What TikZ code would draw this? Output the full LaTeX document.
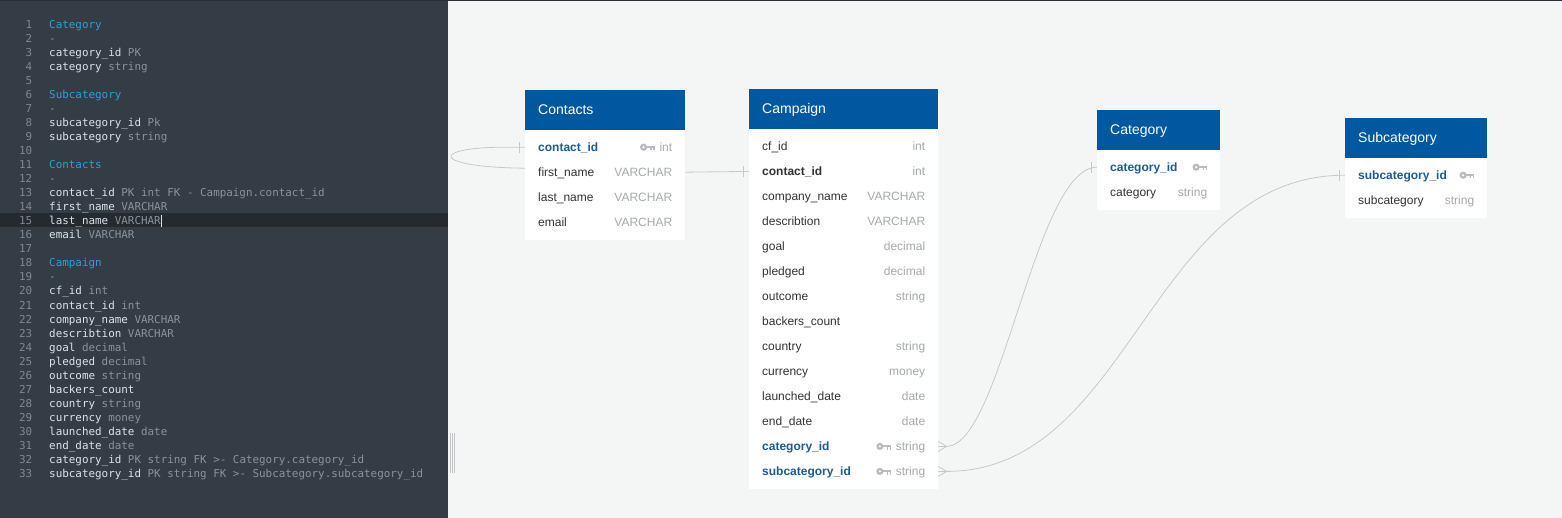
\documentclass[tikz,border=0pt]{standalone}
\usepackage{fontspec}
\setmainfont{Liberation Sans}
\setmonofont{DejaVu Sans Mono}
\usetikzlibrary{calc,positioning}
\definecolor{CodeBg}{HTML}{343D46}
\definecolor{CodeLine}{HTML}{242A30}
\definecolor{CodeText}{HTML}{DDE2E7}
\definecolor{CodeType}{HTML}{8A939C}
\definecolor{CodeTitle}{HTML}{2AA0DA}
\definecolor{CodeNum}{HTML}{7E8891}
\definecolor{CanvasBg}{HTML}{F4F6F6}
\definecolor{TopBar}{HTML}{2A3037}
\definecolor{HeadBlue}{HTML}{0059A0}
\definecolor{KeyBlue}{HTML}{1B5C99}
\definecolor{RowText}{HTML}{333333}
\definecolor{TypeGray}{HTML}{A6AAAE}
\definecolor{KeyGray}{HTML}{B8BCC0}
\definecolor{LineGray}{HTML}{C6C8CA}
\definecolor{GripGray}{HTML}{C2C6CA}
\newcommand{\codefont}{\ttfamily\fontsize{10.9}{14}\selectfont}
\newcommand{\tblheadfont}{\fontsize{14}{16}\selectfont}
\newcommand{\tblrowfont}{\fontsize{12}{14}\selectfont}

\begin{document}
\begin{tikzpicture}[
    x=1pt, y=-1pt,
    lineno/.style={font=\codefont, text=CodeNum, anchor=base east, inner sep=0pt},
    codetxt/.style={font=\codefont, anchor=base west, inner sep=0pt, text height=8pt, text depth=2.5pt},
    tblhead/.style={fill=HeadBlue, text=white, font=\tblheadfont, anchor=north west, inner xsep=13pt, inner ysep=0pt, minimum height=39.5pt, text height=10pt, text depth=0pt, text width=#1, align=left},
    tblbody/.style={fill=white, anchor=north west, inner sep=0pt, minimum width=#1},
    fieldname/.style={anchor=base west, inner sep=0pt, text height=8.6pt, text depth=0pt},
    fieldtype/.style={font=\tblrowfont, text=TypeGray, anchor=base east, inner sep=0pt, text height=8.6pt, text depth=0pt},
    relline/.style={draw=LineGray, line width=0.8pt},
    keyicon/.pic={
      \fill[KeyGray] (-11.3,0) circle (3.6);
      \fill[white] (-11.3,0) circle (1.2);
      \fill[KeyGray] (-8.5,-1.5) rectangle (0,1.0);
      \fill[KeyGray] (-4.6,0) rectangle (-3.2,3.2);
      \fill[KeyGray] (-1.6,0) rectangle (0,3.2);
    }
]
  \useasboundingbox (0,0) rectangle (1562,518);

  % -------------------------------------------------------------
  % background
  % -------------------------------------------------------------
  \fill[CanvasBg] (0,0) rectangle (1562,518);
  \fill[CodeBg] (0,0) rectangle (448,518);
  \fill[TopBar] (0,0) rectangle (1562,1.5);

  % -------------------------------------------------------------
  % code editor
  % -------------------------------------------------------------
  \fill[CodeLine] (0,212.6) rectangle (448,226.6);

  \foreach \n in {1,...,33} {
    \pgfmathsetmacro\yy{28.4+(\n-1)*14.03}
    \node[lineno] (ln\n) at (32.5,\yy) {\n};
  }
  \foreach \n/\a in {1/Category, 6/Subcategory, 11/Contacts, 18/Campaign} {
    \pgfmathsetmacro\yy{28.4+(\n-1)*14.03}
    \node[codetxt, text=CodeTitle] (code\n) at (49,\yy) {\a};
  }
  \foreach \n in {2,7,12,19} {
    \pgfmathsetmacro\yy{28.4+(\n-1)*14.03}
    \node[codetxt, text=CodeType] (code\n) at (49,\yy) {-};
  }
  \foreach \n/\a/\b in {3/category\_id/PK, 4/category/string, 8/subcategory\_id/Pk, 9/subcategory/string,
      13/contact\_id/PK int FK - Campaign.contact\_id, 14/first\_name/VARCHAR, 15/last\_name/VARCHAR, 16/email/VARCHAR,
      20/cf\_id/int, 21/contact\_id/int, 22/company\_name/VARCHAR, 23/describtion/VARCHAR, 24/goal/decimal,
      25/pledged/decimal, 26/outcome/string, 27/backers\_count/, 28/country/string, 29/currency/money,
      30/launched\_date/date, 31/end\_date/date, 32/category\_id/PK string FK >- Category.category\_id,
      33/subcategory\_id/PK string FK >- Subcategory.subcategory\_id} {
    \pgfmathsetmacro\yy{28.4+(\n-1)*14.03}
    \node[codetxt] (code\n) at (49,\yy) {{\color{CodeText}\a}\ {\color{CodeType}\b}};
  }
  % cursor
  \draw[CodeText, line width=0.9pt] ($(code15.base east)+(0.5,2.5)$) -- ++(0,-12);

  % splitter grip
  \foreach \gx in {450.3,452.2,454.1}
    \draw[GripGray, line width=0.7pt] (\gx,433) -- (\gx,473);

  % -------------------------------------------------------------
  % Contacts
  % -------------------------------------------------------------
  \node[tblhead=134pt] (ct_head) at (525,90) {Contacts};
  \node[tblbody=160pt, minimum height=110pt] (ct_body) at (ct_head.south west) {};
  \foreach \i/\f/\t/\c/\w in {1/contact\_id/int/KeyBlue/\bfseries, 2/first\_name/VARCHAR/RowText/,
      3/last\_name/VARCHAR/RowText/, 4/email/VARCHAR/RowText/} {
    \node[fieldname, text=\c, font=\tblrowfont\w] (ct_f\i) at ($(ct_head.south west)+(13,{21.6+25*(\i-1)})$) {\f};
    \node[fieldtype] (ct_t\i) at ($(ct_head.south east)+(-13,{21.6+25*(\i-1)})$) {\t};
  }
  \pic at ($(ct_t1.west)+(-4.5,0)$) {keyicon};

  % -------------------------------------------------------------
  % Campaign
  % -------------------------------------------------------------
  \node[tblhead=163pt] (cp_head) at (749,89) {Campaign};
  \node[tblbody=189pt, minimum height=359.5pt] (cp_body) at (cp_head.south west) {};
  \foreach \i/\f/\t/\c/\w in {1/cf\_id/int/RowText/, 2/contact\_id/int/RowText/\bfseries,
      3/company\_name/VARCHAR/RowText/, 4/describtion/VARCHAR/RowText/, 5/goal/decimal/RowText/,
      6/pledged/decimal/RowText/, 7/outcome/string/RowText/, 8/backers\_count//RowText/,
      9/country/string/RowText/, 10/currency/money/RowText/, 11/launched\_date/date/RowText/,
      12/end\_date/date/RowText/, 13/category\_id/string/KeyBlue/\bfseries,
      14/subcategory\_id/string/KeyBlue/\bfseries} {
    \node[fieldname, text=\c, font=\tblrowfont\w] (cp_f\i) at ($(cp_head.south west)+(13,{21.8+25*(\i-1)})$) {\f};
    \node[fieldtype] (cp_t\i) at ($(cp_head.south east)+(-13,{21.8+25*(\i-1)})$) {\t};
  }
  \pic at ($(cp_t13.west)+(-4.5,0)$) {keyicon};
  \pic at ($(cp_t14.west)+(-4.5,0)$) {keyicon};

  % -------------------------------------------------------------
  % Category
  % -------------------------------------------------------------
  \node[tblhead=97pt] (cg_head) at (1097,110) {Category};
  \node[tblbody=123pt, minimum height=60pt] (cg_body) at (cg_head.south west) {};
  \foreach \i/\f/\t/\c/\w in {1/category\_id//KeyBlue/\bfseries, 2/category/string/RowText/} {
    \node[fieldname, text=\c, font=\tblrowfont\w] (cg_f\i) at ($(cg_head.south west)+(13,{21.6+25*(\i-1)})$) {\f};
    \node[fieldtype] (cg_t\i) at ($(cg_head.south east)+(-13,{21.6+25*(\i-1)})$) {\t};
  }
  \pic at (cg_t1.east) {keyicon};

  % -------------------------------------------------------------
  % Subcategory
  % -------------------------------------------------------------
  \node[tblhead=116pt] (sc_head) at (1345,118) {Subcategory};
  \node[tblbody=142pt, minimum height=60pt] (sc_body) at (sc_head.south west) {};
  \foreach \i/\f/\t/\c/\w in {1/subcategory\_id//KeyBlue/\bfseries, 2/subcategory/string/RowText/} {
    \node[fieldname, text=\c, font=\tblrowfont\w] (sc_f\i) at ($(sc_head.south west)+(13,{21.6+25*(\i-1)})$) {\f};
    \node[fieldtype] (sc_t\i) at ($(sc_head.south east)+(-13,{21.6+25*(\i-1)})$) {\t};
  }
  \pic at (sc_t1.east) {keyicon};

  % -------------------------------------------------------------
  % relations
  % -------------------------------------------------------------
  % Contacts self loop
  \coordinate (loop_a) at (ct_head.west |- ct_f1);
  \coordinate (loop_b) at ($(loop_a)+(0,21)$);
  \draw[relline] (loop_a) -- ++(-20,0) .. controls ($(loop_a)+(-95,0)$) and ($(loop_b)+(-95,-1)$) .. (loop_b);
  \draw[relline] ($(loop_a)+(-6,-5.5)$) -- ++(0,11);

  % Contacts -> Campaign
  \coordinate (ct_out) at (ct_head.east |- ct_f2);
  \coordinate (cp_in) at (cp_head.west |- cp_f2);
  \draw[relline] (ct_out) -- (cp_in);
  \draw[relline] ($(cp_in)+(-6,-5.5)$) -- ++(0,11);

  % Campaign -> Category
  \coordinate (cp_cat) at (cp_head.east |- cp_f13);
  \coordinate (cg_in) at (cg_head.west |- cg_f1);
  \draw[relline] (cp_cat) -- ++(8,0) .. controls ($(cp_cat)+(63,0)$) and ($(cg_in)+(-62,0)$) .. (cg_in);
  \draw[relline] ($(cp_cat)+(0,-5)$) -- ($(cp_cat)+(8,0)$) -- ($(cp_cat)+(0,5)$);
  \draw[relline] ($(cg_in)+(-6,-5.5)$) -- ++(0,11);

  % Campaign -> Subcategory
  \coordinate (cp_sub) at (cp_head.east |- cp_f14);
  \coordinate (sc_in) at (sc_head.west |- sc_f1);
  \draw[relline] (cp_sub) -- ++(8,0) .. controls ($(cp_sub)+(193,0)$) and ($(sc_in)+(-195,0)$) .. (sc_in);
  \draw[relline] ($(cp_sub)+(0,-5)$) -- ($(cp_sub)+(8,0)$) -- ($(cp_sub)+(0,5)$);
  \draw[relline] ($(sc_in)+(-6,-5.5)$) -- ++(0,11);

\end{tikzpicture}
\end{document}
